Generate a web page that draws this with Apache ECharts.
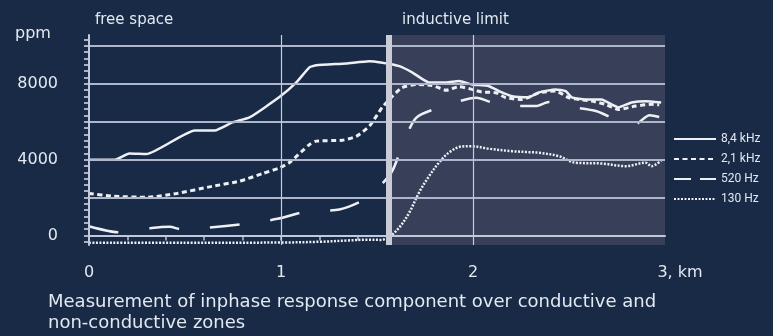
<!DOCTYPE html>
<html>
<head>
<meta charset="utf-8">
<script src="https://cdn.jsdelivr.net/npm/echarts@6/dist/echarts.min.js"></script>
<style>
  html, body { margin: 0; padding: 0; background: #182a45; }
  #chart { width: 773px; height: 336px; }
</style>
</head>
<body>
<div id="chart"></div>
<script>
// Profile distance (km) and inphase response (ppm) for each frequency
const km84  = [0, 0.135, 0.21, 0.30, 0.55, 0.655, 0.75, 0.836, 0.99, 1.08, 1.148, 1.184, 1.34, 1.46, 1.52, 1.616, 1.683, 1.77, 1.86, 1.927, 1.995, 2.083, 2.135, 2.203, 2.29, 2.343, 2.43, 2.483, 2.514, 2.587, 2.67, 2.722, 2.758, 2.826, 2.899, 2.98];
const ppm84 = [4000, 4000, 4330, 4300, 5540, 5540, 5980, 6230, 7290, 8080, 8870, 8980, 9080, 9200, 9130, 8940, 8610, 8080, 8080, 8150, 7970, 7880, 7620, 7350, 7290, 7550, 7710, 7620, 7290, 7180, 7180, 6920, 6760, 7020, 7090, 7020];

const km21  = [0, 0.125, 0.30, 0.457, 0.644, 0.784, 0.904, 0.992, 1.044, 1.148, 1.184, 1.32, 1.392, 1.46, 1.527, 1.564, 1.63, 1.704, 1.787, 1.86, 1.927, 1.995, 2.047, 2.12, 2.171, 2.255, 2.343, 2.43, 2.5, 2.618, 2.69, 2.758, 2.847, 2.93, 2.97];
const ppm21 = [2220, 2075, 2020, 2220, 2600, 2870, 3270, 3570, 3850, 4800, 4980, 5030, 5230, 5770, 6760, 7180, 7800, 7970, 7920, 7670, 7850, 7710, 7570, 7530, 7270, 7180, 7530, 7620, 7270, 7090, 6920, 6650, 6830, 6920, 6900];

const km520  = [0, 0.151, 0.327, 0.42, 0.483, 0.644, 0.82, 0.982, 1.138, 1.304, 1.449, 1.574, 1.631, 1.704, 1.85, 2.016, 2.16, 2.327, 2.395, 2.483, 2.644, 2.722, 2.769, 2.84, 2.92, 2.97];
const ppm520 = [490, 175, 400, 460, 320, 440, 630, 880, 1280, 1370, 1990, 3310, 4710, 6210, 6830, 7270, 6830, 6830, 7040, 6830, 6560, 6210, 5950, 5850, 6350, 6250];

const km130  = [0, 0.5, 1.0, 1.2, 1.35, 1.45, 1.52, 1.564, 1.616, 1.668, 1.719, 1.771, 1.823, 1.875, 1.943, 1.995, 2.083, 2.203, 2.29, 2.343, 2.447, 2.535, 2.67, 2.795, 2.899, 2.93, 2.98];
const ppm130 = [-380, -380, -370, -330, -260, -220, -230, -60, 420, 1210, 2270, 3130, 3850, 4380, 4700, 4710, 4580, 4450, 4400, 4370, 4190, 3840, 3800, 3660, 3840, 3660, 3960];

// Axes
const yLabelValues = [0, 4000, 8000];
const yGridValues  = [0, 2000, 4000, 6000, 8000, 10000];
const xGridValues  = [1, 2];
const xTickValues  = [0, 0.2, 0.4, 0.6, 0.8, 1, 1.2, 1.4, 1.6, 1.8, 2, 2.2, 2.4, 2.6, 2.8];
const yMin = -500, yMax = 10580;
const inductiveStart = 1.5625;  // start of the conductive (inductive limit) zone, km

// Fine tick scale beside the ppm axis
const yFineTicks = [];
for (let k = 0; k <= 32; k++) yFineTicks.push(-330 + k * 1000 / 3);

const FONT = 'DejaVu Sans';
const TEXT = '#e4e8f0';
const LINE = '#eef0f6';
const GRID = '#aeb6cb';

const pairs = (xs, ys) => xs.map((x, i) => [x, ys[i]]);

const chart = echarts.init(document.getElementById('chart'), null, { renderer: 'canvas' });

chart.setOption({
  backgroundColor: '#182a45',
  animation: false,
  grid: { left: 89, top: 35, width: 576, height: 210 },
  xAxis: [
    {
      type: 'value', min: 0, max: 3, interval: 1, position: 'bottom', z: 6,
      axisLine: { show: true, lineStyle: { color: '#c3c9da', width: 2 } },
      axisTick: { show: false },
      splitLine: { show: false },
      axisLabel: {
        margin: 20, color: TEXT, fontFamily: FONT, fontSize: 16,
        formatter: v => v === 3 ? '{km|3, km}' : String(v),
        rich: { km: { color: TEXT, fontFamily: FONT, fontSize: 16, padding: [0, 0, 0, 30] } }
      }
    },
    {
      type: 'value', min: 0, max: 3, position: 'bottom', offset: 7,
      axisLine: { show: false },
      axisTick: { show: true, customValues: xTickValues, length: 5, lineStyle: { color: '#b8bfd2', width: 1.5 } },
      axisLabel: { show: false },
      splitLine: { show: false }
    }
  ],
  yAxis: [
    {
      type: 'value', min: yMin, max: yMax, position: 'left', z: 6,
      axisLine: { show: true, lineStyle: { color: '#c3c9da', width: 2 } },
      axisTick: { show: false },
      splitLine: { show: false },
      axisLabel: {
        customValues: yLabelValues, margin: 31, color: TEXT, fontFamily: FONT, fontSize: 16,
        formatter: v => String(v)
      }
    },
    {
      type: 'value', min: yMin, max: yMax, position: 'left', offset: 9,
      axisLine: { show: false },
      axisTick: { show: true, customValues: yFineTicks, length: 5, lineStyle: { color: '#a9b1c6', width: 2 } },
      axisLabel: { show: false },
      splitLine: { show: false }
    }
  ],
  legend: {
    orient: 'vertical', left: 668, top: 128,
    itemWidth: 42, itemHeight: 10, itemGap: 8,
    itemStyle: { color: 'transparent', borderColor: 'transparent', borderWidth: 0, opacity: 0 },
    textStyle: { color: TEXT, fontFamily: 'Roboto', fontSize: 12 },
    data: [
      { name: '8,4 kHz' },
      { name: '2,1 kHz' },
      { name: '520 Hz', lineStyle: { type: [17, 9] } },
      { name: '130 Hz' }
    ]
  },
  graphic: [
    { type: 'text', left: 15, top: 26, style: { text: 'ppm', fill: TEXT, font: '16px "DejaVu Sans"' } },
    { type: 'text', left: 95, top: 13, style: { text: 'free space', fill: TEXT, font: '15px "DejaVu Sans"' } },
    { type: 'text', left: 402, top: 13, style: { text: 'inductive limit', fill: TEXT, font: '15px "DejaVu Sans"' } },
    { type: 'text', left: 48, top: 292, style: { text: 'Measurement of inphase response component over conductive and\nnon-conductive zones', fill: TEXT, font: '18px "DejaVu Sans"', lineHeight: 21 } }
  ],
  series: [
    {
      // shaded conductive zone
      type: 'line', data: [], z: 1, silent: true,
      markArea: {
        silent: true,
        itemStyle: { color: '#383f58' },
        data: [[{ xAxis: inductiveStart, yAxis: yMin }, { xAxis: 3, yAxis: yMax }]]
      }
    },
    {
      // grid lines
      type: 'line', data: [], z: 2, silent: true,
      markLine: {
        silent: true, symbol: 'none', label: { show: false },
        lineStyle: { color: GRID, width: 2, type: 'solid' },
        data: yGridValues.map(v => ({ yAxis: v }))
          .concat(xGridValues.map(v => ({ xAxis: v, lineStyle: { color: '#c6cce0', width: 1.2, type: 'solid' } })))
      }
    },
    {
      name: '8,4 kHz', type: 'line', z: 3, smooth: 0.15, showSymbol: false, symbol: 'none',
      lineStyle: { color: LINE, width: 2.5, type: 'solid' },
      itemStyle: { color: LINE },
      data: pairs(km84, ppm84)
    },
    {
      name: '2,1 kHz', type: 'line', z: 3, smooth: 0.2, showSymbol: false, symbol: 'none',
      lineStyle: { color: LINE, width: 3, type: [5, 3.5] },
      itemStyle: { color: LINE },
      data: pairs(km21, ppm21)
    },
    {
      name: '520 Hz', type: 'line', z: 3, smooth: 0.25, showSymbol: false, symbol: 'none',
      lineStyle: { color: LINE, width: 2.5, type: [30, 31] },
      itemStyle: { color: LINE },
      data: pairs(km520, ppm520)
    },
    {
      name: '130 Hz', type: 'line', z: 3, smooth: 0.35, showSymbol: false, symbol: 'none',
      lineStyle: { color: LINE, width: 2.5, type: [2, 1.5] },
      itemStyle: { color: LINE },
      data: pairs(km130, ppm130)
    },
    {
      // boundary marker between the zones
      type: 'line', data: [], z: 5, silent: true,
      markLine: {
        silent: true, symbol: 'none', label: { show: false },
        lineStyle: { color: '#c9ccd7', width: 6, type: 'solid' },
        data: [{ xAxis: inductiveStart }]
      }
    }
  ]
});
</script>
</body>
</html>
